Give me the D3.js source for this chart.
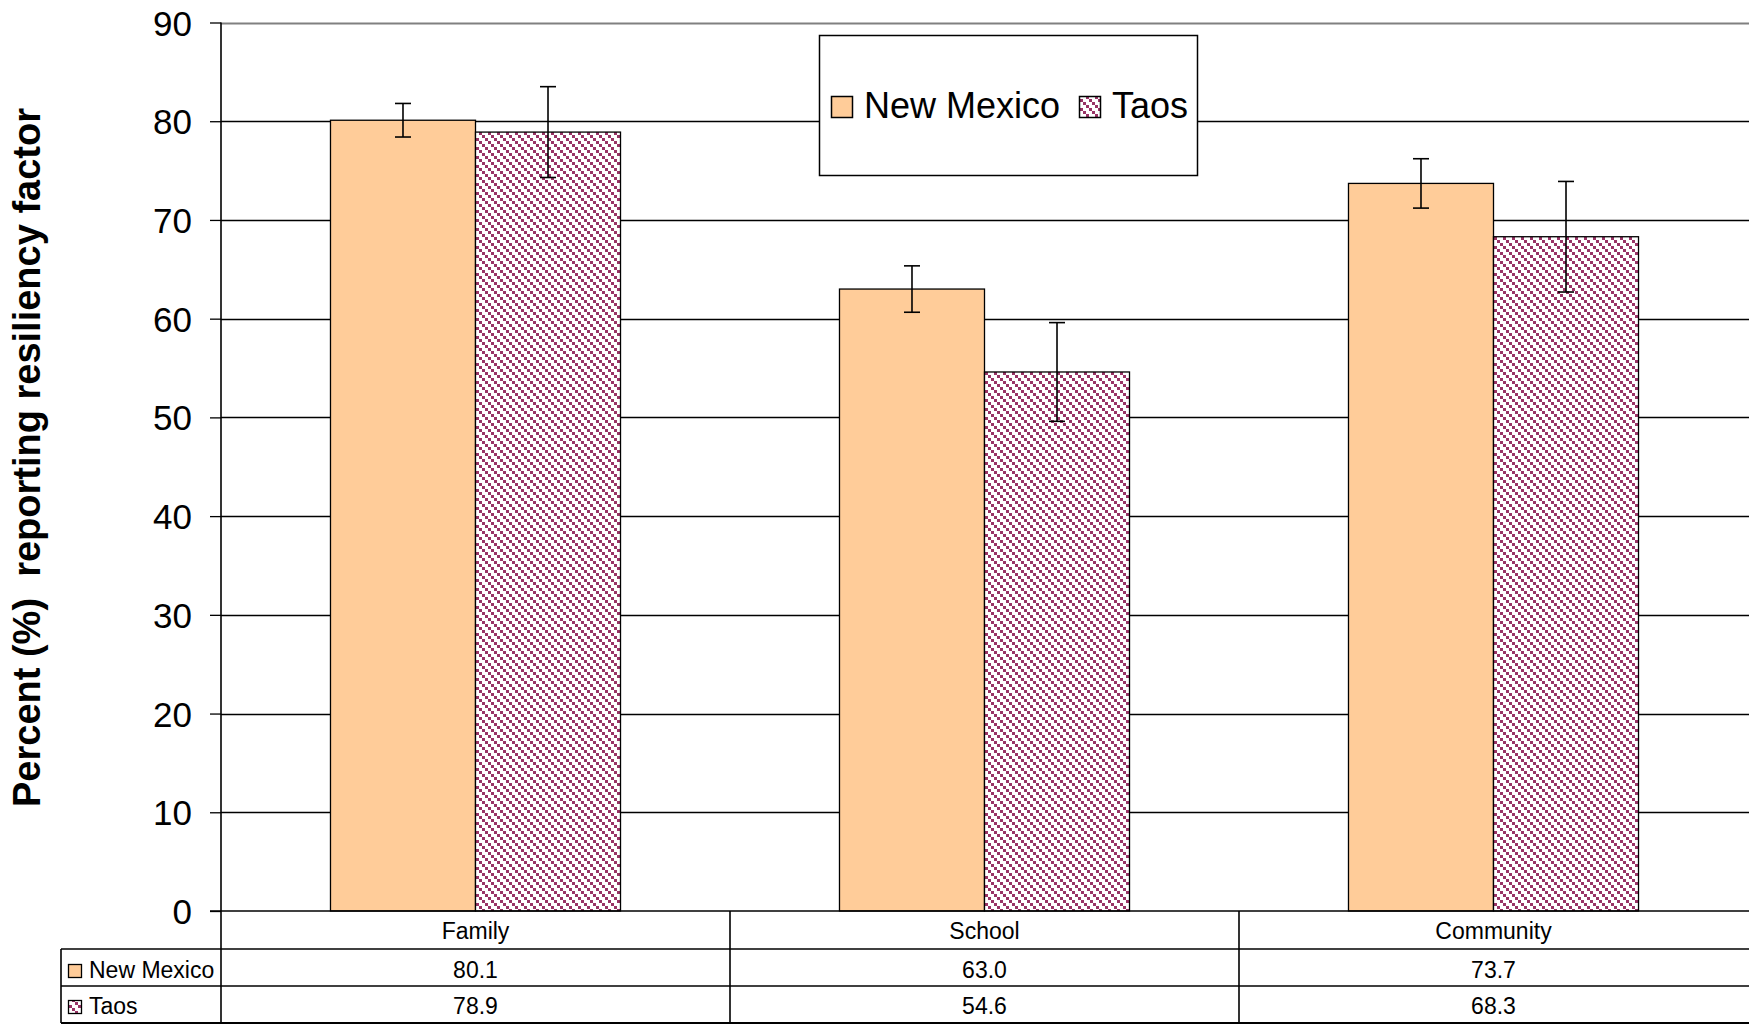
<!DOCTYPE html>
<html>
<head>
<meta charset="utf-8">
<script src="https://cdn.jsdelivr.net/npm/d3@7"></script>
<style>
  html, body { margin: 0; padding: 0; background: #fff; }
  svg { display: block; }
  text { font-family: "Liberation Sans", Arial, sans-serif; }
</style>
</head>
<body>
<script>
// ---- Data ----
const categories = ["Family", "School", "Community"];
const seriesNames = ["New Mexico", "Taos"];
const newMexico = [80.1, 63.0, 73.7];
const taos = [78.9, 54.6, 68.3];
const newMexicoErr = [1.7, 2.35, 2.5];
const taosErr = [4.6, 5.0, 5.6];
const yTicks = [0, 10, 20, 30, 40, 50, 60, 70, 80, 90];
const yTitle = "Percent (%)  reporting resiliency factor";

const seriesValues = [newMexico, taos];
const seriesErrors = [newMexicoErr, taosErr];

// ---- Layout ----
const W = 1749, H = 1024;
const plotLeft = 221, plotRight = 1748, plotTop = 22.5, plotBottom = 911;
const tableLeft = 61, headerH = 38, rowH = 37;
const orange = "#FFCC99", maroon = "#993366";

const svg = d3.select("body").append("svg")
  .attr("width", W).attr("height", H);

const defs = svg.append("defs");
const pat = defs.append("pattern")
  .attr("id", "taosPat")
  .attr("patternUnits", "userSpaceOnUse")
  .attr("width", 9).attr("height", 9);
pat.append("rect").attr("width", 9).attr("height", 9).attr("fill", "#fff");
[0, 3, 6].forEach(k => pat.append("rect")
  .attr("x", k).attr("y", k).attr("width", 3).attr("height", 3).attr("fill", maroon));

const fills = [orange, "url(#taosPat)"];

// Scales
const y = d3.scaleLinear().domain([0, 90]).range([plotBottom, plotTop]);
const x0 = d3.scaleBand().domain(categories).range([plotLeft, plotRight]).padding(0);
const x1 = d3.scaleBand().domain(seriesNames).range([0, x0.bandwidth()])
  .paddingInner(0).paddingOuter(0.755);

// Gridlines
svg.append("g").selectAll("line")
  .data(yTicks.filter(t => t > 0))
  .join("line")
  .attr("x1", plotLeft).attr("x2", W)
  .attr("y1", d => Math.round(y(d)) + 0.5).attr("y2", d => Math.round(y(d)) + 0.5)
  .attr("stroke", d => d === 90 ? "#808080" : "#000")
  .attr("stroke-width", d => d === 90 ? 2 : 1.3);

// Y axis
const yAxis = d3.axisLeft(y).tickValues(yTicks).tickSize(11).tickPadding(18)
  .tickFormat(d3.format("d"));
const gy = svg.append("g").attr("transform", `translate(${plotLeft},0)`).call(yAxis);
gy.select(".domain").remove();
gy.selectAll(".tick line").attr("stroke", "#000").attr("stroke-width", 1.3);
gy.selectAll(".tick text").attr("font-size", 35).attr("fill", "#000")
  .attr("font-family", "'Liberation Sans', Arial, sans-serif").attr("dy", "0.36em");

// Y title
svg.append("text")
  .attr("transform", `translate(40, 807) rotate(-90)`)
  .attr("text-anchor", "start")
  .attr("font-size", 38).attr("font-weight", "bold")
  .style("white-space", "pre")
  .text(yTitle);

// Bars
const groups = svg.append("g").selectAll("g")
  .data(categories)
  .join("g")
  .attr("transform", d => `translate(${x0(d)},0)`);

groups.selectAll("rect")
  .data((c, i) => seriesNames.map((s, j) => ({ s, j, v: seriesValues[j][i], e: seriesErrors[j][i] })))
  .join("rect")
  .attr("x", d => x1(d.s))
  .attr("y", d => y(d.v))
  .attr("width", x1.bandwidth())
  .attr("height", d => y(0) - y(d.v))
  .attr("fill", d => fills[d.j])
  .attr("stroke", "#000").attr("stroke-width", 1.3);

// Error bars
const eb = groups.selectAll("g.err")
  .data((c, i) => seriesNames.map((s, j) => ({ s, j, v: seriesValues[j][i], e: seriesErrors[j][i] })))
  .join("g").attr("class", "err")
  .attr("stroke", "#000").attr("stroke-width", 1.6);
eb.append("line")
  .attr("x1", d => x1(d.s) + x1.bandwidth() / 2).attr("x2", d => x1(d.s) + x1.bandwidth() / 2)
  .attr("y1", d => y(d.v + d.e)).attr("y2", d => y(d.v - d.e));
eb.append("line")
  .attr("x1", d => x1(d.s) + x1.bandwidth() / 2 - 8).attr("x2", d => x1(d.s) + x1.bandwidth() / 2 + 8)
  .attr("y1", d => y(d.v + d.e)).attr("y2", d => y(d.v + d.e));
eb.append("line")
  .attr("x1", d => x1(d.s) + x1.bandwidth() / 2 - 8).attr("x2", d => x1(d.s) + x1.bandwidth() / 2 + 8)
  .attr("y1", d => y(d.v - d.e)).attr("y2", d => y(d.v - d.e));

// ---- Data table ----
const tTop = y(0);
const r1 = tTop + headerH, r2 = r1 + rowH, r3 = r2 + rowH;
const tbl = svg.append("g").attr("stroke", "#000").attr("stroke-width", 1.6);
tbl.append("line").attr("x1", plotLeft - 11).attr("x2", W).attr("y1", tTop).attr("y2", tTop);
[r1, r2].forEach(yy => tbl.append("line").attr("x1", tableLeft).attr("x2", W).attr("y1", yy).attr("y2", yy));
tbl.append("line").attr("x1", tableLeft).attr("x2", W).attr("y1", r3).attr("y2", r3).attr("stroke-width", 2);
tbl.append("line").attr("x1", plotLeft).attr("x2", plotLeft).attr("y1", plotTop).attr("y2", r3);
tbl.append("line").attr("x1", tableLeft).attr("x2", tableLeft).attr("y1", r1).attr("y2", r3);
categories.slice(1).forEach(c => tbl.append("line")
  .attr("x1", x0(c)).attr("x2", x0(c)).attr("y1", tTop).attr("y2", r3));

// header text
svg.append("g").selectAll("text").data(categories).join("text")
  .attr("x", d => x0(d) + x0.bandwidth() / 2)
  .attr("y", tTop + 27.5)
  .attr("text-anchor", "middle").attr("font-size", 23)
  .text(d => d);

// value rows
const rowBase = [r1 + 29, r2 + 28];
seriesNames.forEach((s, j) => {
  svg.append("g").selectAll("text").data(categories).join("text")
    .attr("x", d => x0(d) + x0.bandwidth() / 2)
    .attr("y", rowBase[j])
    .attr("text-anchor", "middle").attr("font-size", 23)
    .text((d, i) => seriesValues[j][i].toFixed(1));
  svg.append("rect")
    .attr("x", tableLeft + 7.5).attr("y", rowBase[j] - 13.5)
    .attr("width", 13).attr("height", 13)
    .attr("fill", fills[j]).attr("stroke", "#000").attr("stroke-width", 1.3);
  svg.append("text")
    .attr("x", tableLeft + 28).attr("y", rowBase[j])
    .attr("font-size", 23)
    .text(s);
});

// ---- Legend ----
const lg = svg.append("g");
lg.append("rect")
  .attr("x", 819.5).attr("y", 35.5).attr("width", 378).attr("height", 140)
  .attr("fill", "#fff").attr("stroke", "#000").attr("stroke-width", 1.5);
const legendX = [831.5, 1079.5];
seriesNames.forEach((s, j) => {
  lg.append("rect")
    .attr("x", legendX[j]).attr("y", 96.5).attr("width", 21).attr("height", 21)
    .attr("fill", fills[j]).attr("stroke", "#000").attr("stroke-width", 1.5);
  lg.append("text")
    .attr("x", legendX[j] + 32.5).attr("y", 118)
    .attr("font-size", 36)
    .text(s);
});
</script>
</body>
</html>
